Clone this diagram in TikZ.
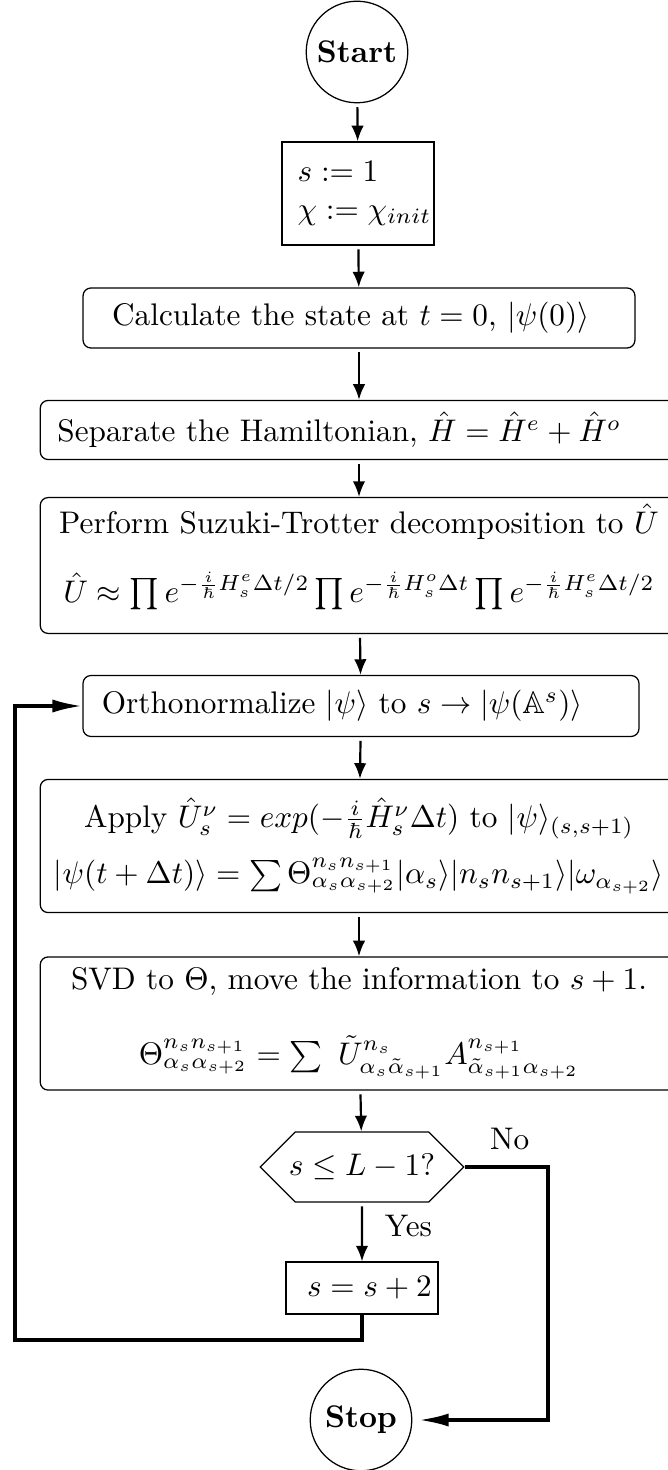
\documentclass[tikz,border=0pt]{standalone}
\usepackage{amsmath,amssymb}
\usetikzlibrary{arrows.meta,shapes.geometric,shapes.symbols}

\begin{document}
\begin{tikzpicture}[
    x=0.32pt, y=-0.32pt,
    >={Latex[length=5pt,width=4pt]},
    terminal/.style={circle, draw, thin, minimum size=32.5pt, inner sep=1pt, font=\bfseries},
    assign/.style={rectangle, draw, thin, minimum width=48.6pt, minimum height=33pt},
    process/.style={rectangle, rounded corners=2.5pt, draw, thin, align=flush center, inner xsep=3pt, text width=198pt, minimum height=42.6pt},
    single/.style={process, align=flush left, minimum height=19.2pt},
    decision/.style={signal, signal to=west and east, signal pointer angle=90, draw, thin, inner xsep=-2pt, minimum height=22.4pt},
    flow/.style={->, line width=0.7pt, shorten <=1.2pt},
    loopback/.style={-{Latex[length=9.6pt,width=4.2pt]}, line width=1.1pt},
    answer/.style={inner sep=1pt}
]
\useasboundingbox (0,0) rectangle (667,1470);

% Start and initial values
\node[terminal] (start) at (357,52) {Start};
\node[assign, align=flush left, text width=38.6pt, inner xsep=5pt] (init) at (358,193.5) {$s:=1$\\ ${\chi:=\chi_{init}}$};

% Preparation
\node[single, text width=158pt, inner xsep=9.3pt] (calc) at (359,318) {Calculate the state at $t=0$, $|\psi(0)\rangle$};
\node[single, text width=193pt, inner xsep=5.5pt, minimum height=18.9pt] (split) at (359,430) {Separate the Hamiltonian, $\hat{H}=\hat{H}^e+\hat{H}^o$};
\node[process, inner ysep=2pt] (trotter) at (359,565.5) {Perform Suzuki-Trotter decomposition to $\hat{U}$\\[10pt]
    $\hat{U}\approx\prod e^{-\frac{i}{\hbar}H^e_s\Delta t/2}\prod e^{-\frac{i}{\hbar}H^o_s\Delta t}\prod e^{-\frac{i}{\hbar}H^e_s\Delta t/2}$\rule[-8pt]{0pt}{8pt}};

% Sweep over the sites
\node[single, text width=165.9pt, inner xsep=6pt, minimum height=19.5pt] (ortho) at (361,706) {Orthonormalize $|\psi\rangle$ to $s\rightarrow|\psi(\mathbb{A}^s)\rangle$};
\node[process] (apply) at (359,846) {Apply $\hat{U}^{\nu}_s=exp(-\frac{i}{\hbar}\hat{H}^{\nu}_s\Delta t)$ to $|\psi\rangle_{(s,s+1)}$\\[6pt]
    $|\psi(t+\Delta t)\rangle=\sum\Theta^{n_sn_{s+1}}_{\alpha_s\alpha_{s+2}}|\alpha_s\rangle|n_sn_{s+1}\rangle|\omega_{\alpha_{s+2}}\rangle$};
\node[process] (svd) at (359,1023.5) {SVD to $\Theta$, move the information to $s+1$.\\[12pt]
    $\Theta^{n_sn_{s+1}}_{\alpha_s\alpha_{s+2}}=\sum\ \tilde{U}^{n_s}_{\alpha_s\tilde{\alpha}_{s+1}}A^{n_{s+1}}_{\tilde{\alpha}_{s+1}\alpha_{s+2}}$};

% Test, increment and end
\node[decision] (test) at (362,1167) {$s\leq L-1?$};
\node[assign, align=flush right, text width=44.7pt, inner xsep=1pt, minimum height=16.6pt] (incr) at (362,1288) {$s=s+2$};
\node[terminal] (stop) at (361,1420) {Stop};

\coordinate (back) at (15,1340);
\coordinate (nobend) at (548,1420);

% Main flow
\draw[flow] (start) -- (init);
\draw[flow] (init) -- (calc);
\draw[flow] (calc) -- (split);
\draw[flow] (split) -- (trotter);
\draw[flow] (trotter) -- (ortho);
\draw[flow] (ortho) -- (apply);
\draw[flow] (apply) -- (svd);
\draw[flow] (svd) -- (test);
\draw[flow] (test) -- node[answer, right=6pt, pos=0.4] {Yes} (incr);

% Loop back and exit
\draw[loopback] (incr.south) |- (back) |- (ortho.west);
\draw[loopback, shorten >=2pt] (test.east) -| node[answer, above=4pt, pos=0.27] {No} (nobend) -- (stop);

\end{tikzpicture}
\end{document}
